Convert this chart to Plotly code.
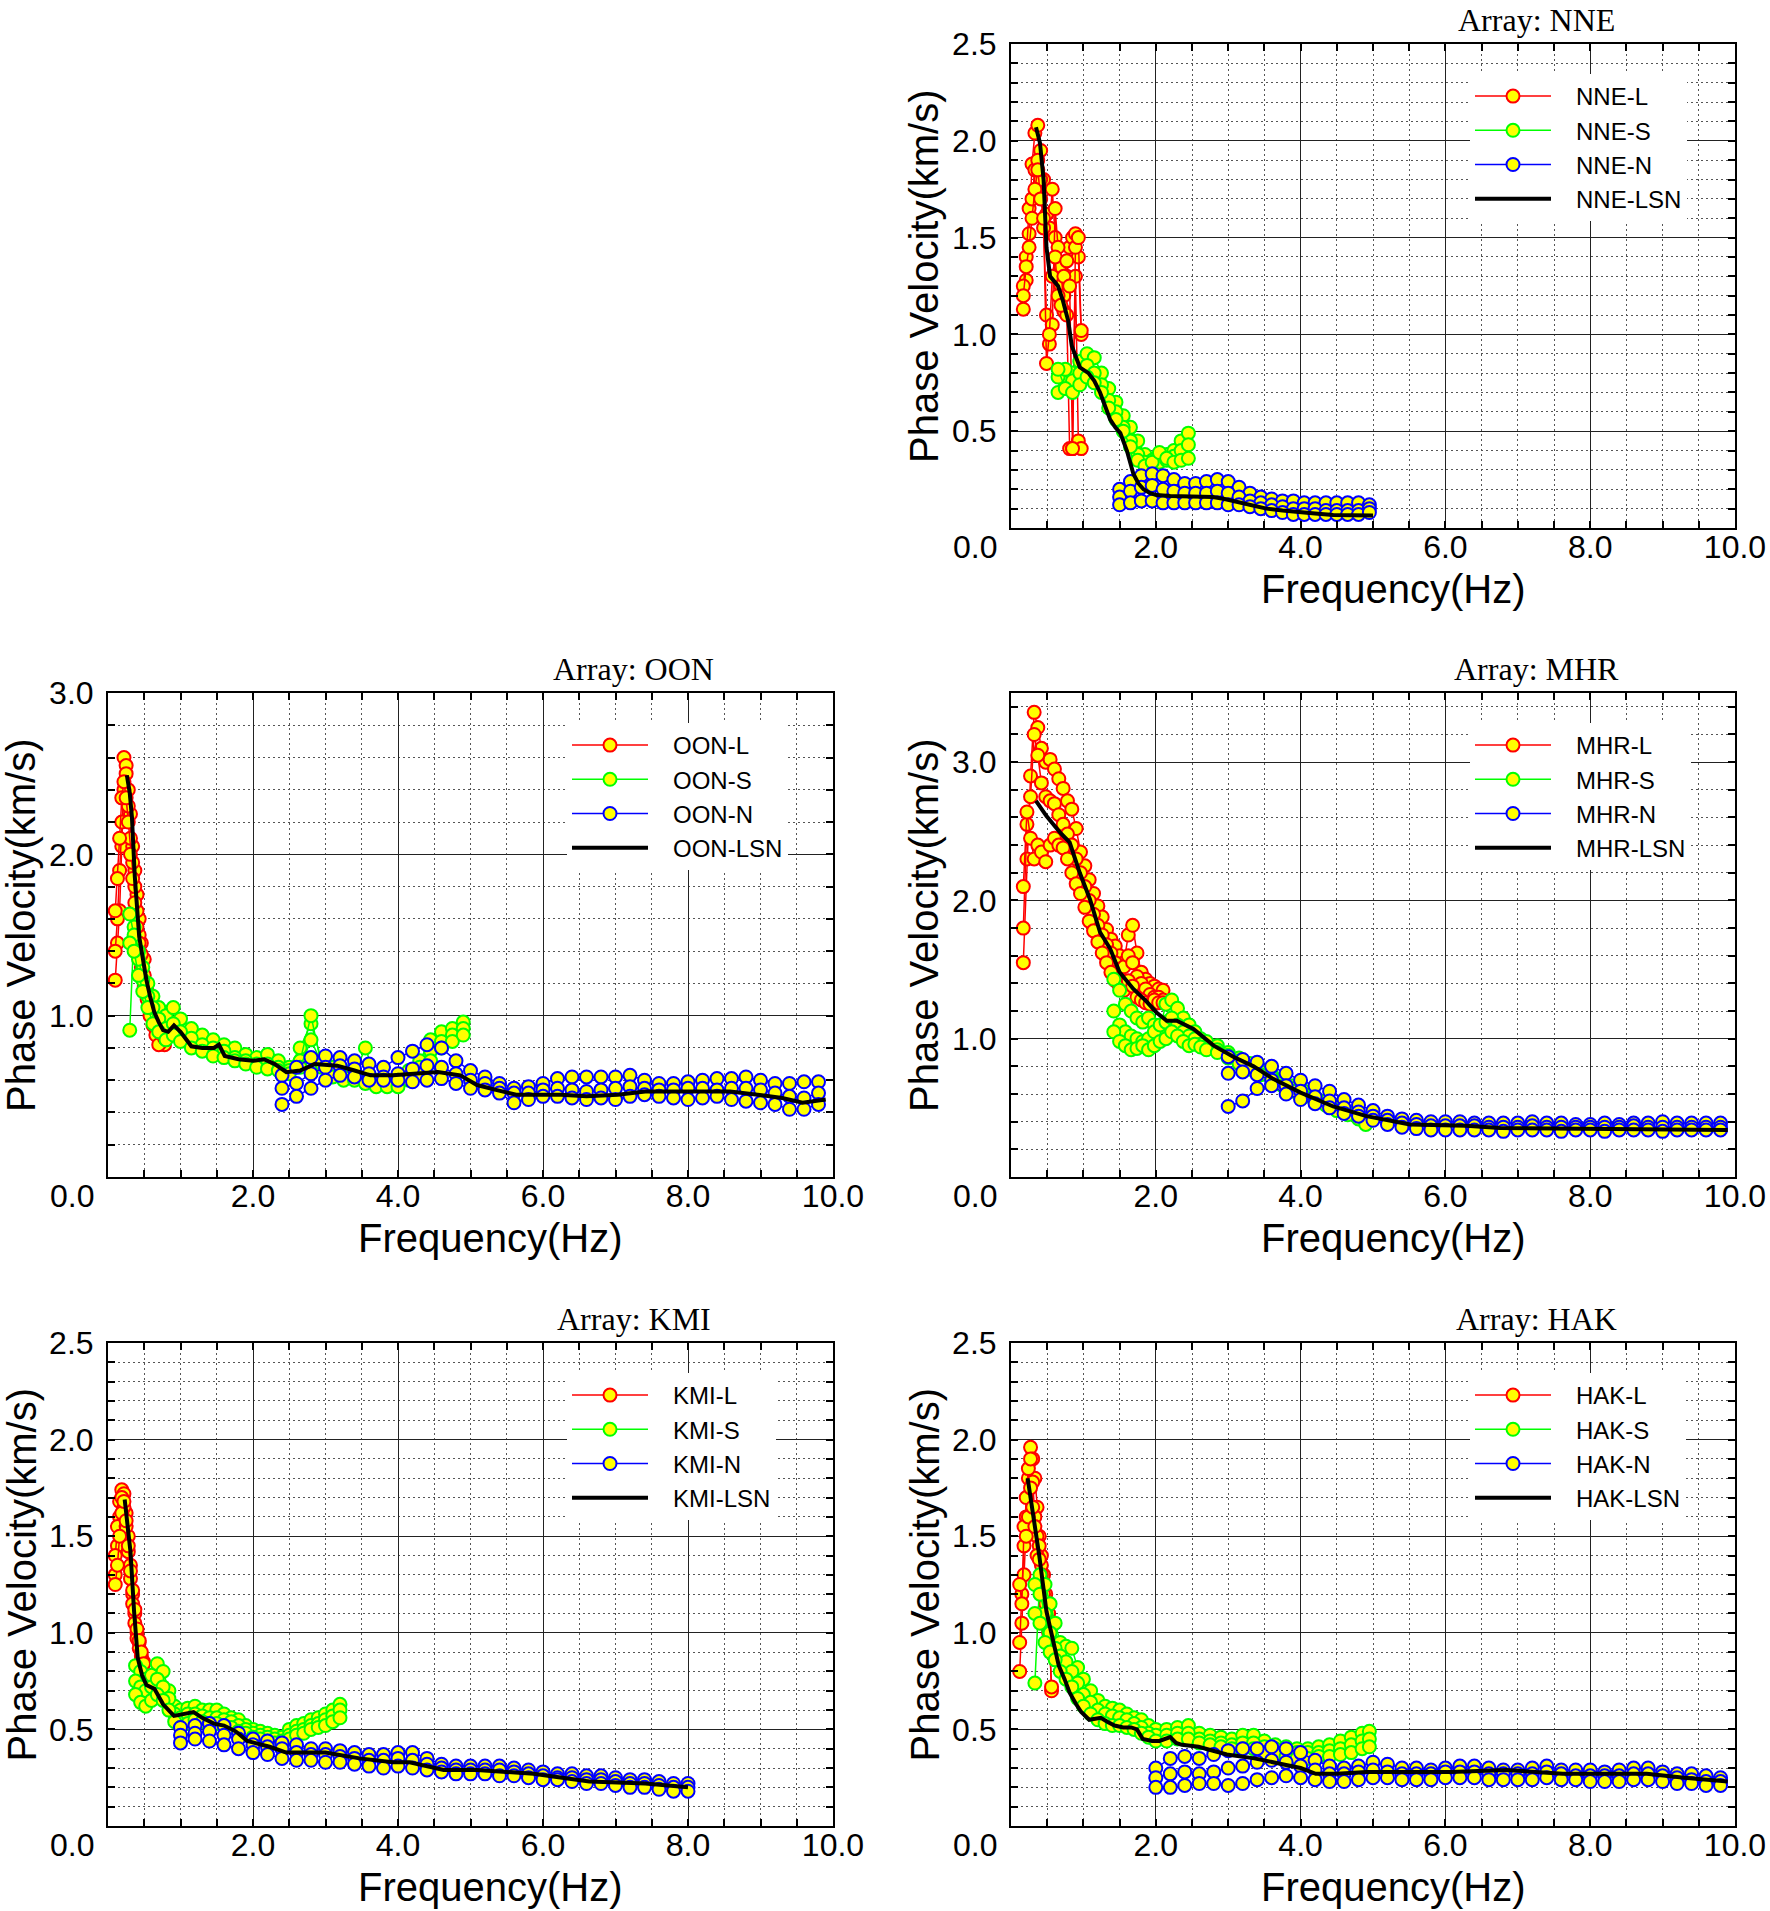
import plotly.graph_objects as go

# Phase velocity (km/s) against frequency (Hz).
# Each observed series (L, S, N) is drawn as a few overlapping branches.

# ---------------- NNE ----------------
NNE_L_FREQ = [0.17, 0.21, 0.25, 0.29, 0.33, 0.37, 0.41, 0.45, 0.49, 0.53, 0.57,
              0.61, 0.65, 0.69, 0.73, 0.77, 0.81, 0.85, 0.89, 0.93, 0.97]
NNE_L_VEL = [
    [1.13, 1.28, 1.52, 1.88, 2.04, 2.08, 1.95, 1.80, 1.62, 1.55, 1.75, 1.50, 1.30, 1.25, 1.20, 1.30, 1.45, 1.50, 1.52, 1.40, 1.00],
    [1.25, 1.40, 1.65, 1.70, 1.85, 1.90, 1.80, 1.55, 1.10, 0.95, 1.05, 1.65, 1.45, 1.35, 1.12, 1.10, 0.41, 0.41, 1.30, 0.45, 0.41],
    [1.20, 1.35, 1.45, 1.60, 1.75, 1.85, 1.70, 1.60, 0.85, 1.00, 1.30, 1.40, 1.20, 1.15, 1.30, 1.38, 1.25, 0.41, 1.45, 1.50, 1.02],
]
NNE_S_FREQ = [0.65, 0.75, 0.85, 0.95, 1.05, 1.15, 1.25, 1.35, 1.45, 1.55, 1.65, 1.75,
              1.85, 1.95, 2.05, 2.15, 2.25, 2.35, 2.45]
NNE_S_VEL = [
    [0.70, 0.75, 0.80, 0.86, 0.90, 0.88, 0.80, 0.72, 0.65, 0.58, 0.52, 0.45, 0.38, 0.35, 0.36, 0.38, 0.40, 0.45, 0.49],
    [0.78, 0.82, 0.76, 0.80, 0.84, 0.80, 0.74, 0.66, 0.60, 0.52, 0.45, 0.38, 0.34, 0.33, 0.34, 0.35, 0.37, 0.40, 0.43],
    [0.82, 0.72, 0.70, 0.74, 0.78, 0.75, 0.70, 0.62, 0.56, 0.50, 0.42, 0.35, 0.32, 0.34, 0.39, 0.36, 0.34, 0.35, 0.36],
]
NNE_N_FREQ = [1.50, 1.65, 1.80, 1.95, 2.10, 2.25, 2.40, 2.55, 2.70, 2.85, 3.00, 3.15,
              3.30, 3.45, 3.60, 3.75, 3.90, 4.05, 4.20, 4.35, 4.50, 4.65, 4.80, 4.95]
NNE_N_VEL = [
    [0.20, 0.24, 0.27, 0.28, 0.27, 0.25, 0.23, 0.23, 0.24, 0.25, 0.24, 0.21, 0.18, 0.16, 0.15, 0.14, 0.14, 0.13, 0.13, 0.13, 0.13, 0.13, 0.13, 0.12],
    [0.16, 0.19, 0.21, 0.22, 0.20, 0.19, 0.18, 0.18, 0.18, 0.19, 0.18, 0.16, 0.14, 0.13, 0.12, 0.11, 0.10, 0.10, 0.10, 0.09, 0.09, 0.09, 0.09, 0.10],
    [0.12, 0.13, 0.14, 0.14, 0.13, 0.13, 0.13, 0.13, 0.13, 0.13, 0.12, 0.12, 0.11, 0.10, 0.09, 0.08, 0.07, 0.07, 0.07, 0.07, 0.07, 0.07, 0.07, 0.08],
]
NNE_LSN_FREQ = [0.345, 0.40, 0.45, 0.49, 0.54, 0.60, 0.65, 0.72, 0.79, 0.84, 0.90, 0.95, 1.07,
                1.15, 1.23, 1.30, 1.37, 1.44, 1.51, 1.60, 1.69, 1.76, 1.83, 1.92, 2.01, 2.20,
                2.38, 2.60, 2.79, 2.95, 3.07, 3.30, 3.53, 3.75, 3.99, 4.20, 4.45, 4.70, 5.00]
NNE_LSN_VEL = [2.07, 1.99, 1.80, 1.45, 1.30, 1.27, 1.25, 1.17, 1.07, 0.94, 0.88, 0.83, 0.80,
               0.76, 0.70, 0.63, 0.56, 0.52, 0.49, 0.40, 0.28, 0.23, 0.20, 0.18, 0.17, 0.165,
               0.162, 0.162, 0.160, 0.15, 0.14, 0.12, 0.10, 0.09, 0.084, 0.075, 0.067, 0.065, 0.065]

# ---------------- OON ----------------
OON_L_FREQ = [0.10, 0.13, 0.16, 0.19, 0.22, 0.25, 0.28, 0.31, 0.34, 0.37, 0.40,
              0.43, 0.46, 0.50, 0.54, 0.58, 0.62, 0.66, 0.70, 0.74, 0.78]
OON_L_VEL = [
    [1.22, 1.45, 1.65, 2.05, 2.60, 2.55, 2.40, 2.25, 2.05, 1.90, 1.75, 1.60, 1.45, 1.35, 1.20, 1.10, 1.02, 0.95, 0.90, 0.85, 0.82],
    [1.40, 1.60, 1.90, 2.20, 2.40, 2.50, 2.30, 2.10, 1.95, 1.80, 1.65, 1.50, 1.38, 1.25, 1.15, 1.05, 0.98, 0.92, 0.86, 0.84, 0.88],
    [1.65, 1.85, 2.10, 2.35, 2.45, 2.35, 2.20, 2.00, 1.85, 1.70, 1.55, 1.45, 1.30, 1.18, 1.10, 1.00, 0.94, 0.88, 0.82, 0.90, 0.86],
]
OON_S_FREQ = [0.30, 0.36, 0.42, 0.48, 0.55, 0.62, 0.70, 0.80, 0.90, 1.00, 1.15, 1.30,
              1.45, 1.60, 1.75, 1.90, 2.05, 2.20, 2.35, 2.50, 2.65, 2.80, 2.95, 3.10,
              3.25, 3.40, 3.55, 3.70, 3.85, 4.00, 4.15, 4.30, 4.45, 4.60, 4.75, 4.90]
OON_S_VEL = [
    [0.91, 1.55, 1.40, 1.30, 1.20, 1.12, 1.05, 1.00, 1.05, 0.98, 0.92, 0.88, 0.85, 0.82, 0.80, 0.76, 0.74, 0.76,
     0.72, 0.68, 0.80, 0.95, 0.72, 0.68, 0.66, 0.64, 0.80, 0.60, 0.58, 0.60, 0.66, 0.72, 0.85, 0.90, 0.92, 0.96],
    [1.63, 1.50, 1.35, 1.22, 1.12, 1.05, 0.98, 0.92, 0.95, 0.90, 0.86, 0.82, 0.80, 0.78, 0.74, 0.72, 0.70, 0.70,
     0.68, 0.66, 0.72, 1.00, 0.68, 0.65, 0.62, 0.62, 0.60, 0.58, 0.57, 0.58, 0.62, 0.68, 0.78, 0.84, 0.88, 0.92],
    [1.45, 1.40, 1.25, 1.15, 1.05, 0.95, 0.90, 0.85, 0.88, 0.84, 0.80, 0.78, 0.75, 0.74, 0.72, 0.70, 0.68, 0.67,
     0.66, 0.64, 0.68, 0.85, 0.70, 0.62, 0.60, 0.60, 0.58, 0.56, 0.56, 0.56, 0.60, 0.64, 0.72, 0.80, 0.84, 0.88],
]
OON_N_FREQ = [2.4, 2.6, 2.8, 3.0, 3.2, 3.4, 3.6, 3.8, 4.0, 4.2, 4.4, 4.6, 4.8, 5.0, 5.2, 5.4, 5.6, 5.8, 6.0,
              6.2, 6.4, 6.6, 6.8, 7.0, 7.2, 7.4, 7.6, 7.8, 8.0, 8.2, 8.4, 8.6, 8.8, 9.0, 9.2, 9.4, 9.6, 9.8]
OON_N_VEL = [
    [0.63, 0.68, 0.74, 0.75, 0.74, 0.72, 0.70, 0.68, 0.74, 0.78, 0.82, 0.80, 0.72, 0.66, 0.62, 0.58, 0.55, 0.56, 0.58,
     0.61, 0.62, 0.62, 0.62, 0.62, 0.63, 0.60, 0.58, 0.58, 0.59, 0.60, 0.61, 0.61, 0.62, 0.60, 0.58, 0.58, 0.59, 0.59],
    [0.55, 0.58, 0.64, 0.68, 0.69, 0.67, 0.64, 0.62, 0.64, 0.67, 0.69, 0.68, 0.64, 0.60, 0.58, 0.55, 0.52, 0.52, 0.54,
     0.55, 0.54, 0.53, 0.54, 0.55, 0.56, 0.55, 0.54, 0.54, 0.55, 0.55, 0.54, 0.55, 0.55, 0.54, 0.52, 0.50, 0.49, 0.52],
    [0.45, 0.50, 0.55, 0.60, 0.63, 0.62, 0.60, 0.60, 0.60, 0.59, 0.60, 0.61, 0.58, 0.55, 0.54, 0.52, 0.46, 0.48, 0.50,
     0.50, 0.49, 0.48, 0.49, 0.48, 0.50, 0.51, 0.50, 0.49, 0.48, 0.49, 0.50, 0.48, 0.47, 0.46, 0.45, 0.42, 0.42, 0.45],
]
OON_LSN_FREQ = [0.26, 0.30, 0.33, 0.37, 0.43, 0.48, 0.53, 0.58, 0.64, 0.70, 0.76, 0.83, 0.91, 1.00,
                1.15, 1.30, 1.46, 1.53, 1.61, 1.80, 2.00, 2.15, 2.30, 2.46, 2.65, 2.85, 3.16, 3.40,
                3.62, 3.93, 4.20, 4.55, 4.86, 5.09, 5.35, 5.63, 6.00, 6.25, 6.60, 7.03, 7.41, 8.00,
                8.58, 8.96, 9.30, 9.58, 9.90]
OON_LSN_VEL = [2.49, 2.38, 2.23, 1.86, 1.49, 1.35, 1.22, 1.12, 1.02, 0.96, 0.91, 0.90, 0.94, 0.90,
               0.81, 0.80, 0.80, 0.82, 0.75, 0.73, 0.72, 0.73, 0.70, 0.65, 0.66, 0.70, 0.69, 0.66,
               0.63, 0.63, 0.64, 0.65, 0.63, 0.57, 0.54, 0.51, 0.51, 0.51, 0.50, 0.51, 0.53, 0.53,
               0.53, 0.51, 0.49, 0.46, 0.48]

# ---------------- MHR ----------------
MHR_L_FREQ = [0.17, 0.22, 0.27, 0.32, 0.37, 0.42, 0.48, 0.54, 0.60, 0.66, 0.72, 0.78, 0.84, 0.90,
              0.96, 1.02, 1.08, 1.14, 1.20, 1.26, 1.32, 1.38, 1.44, 1.50, 1.56, 1.62, 1.68, 1.74,
              1.80, 1.86, 1.92, 1.98, 2.04, 2.10]
MHR_L_VEL = [
    [1.55, 2.30, 2.90, 3.36, 3.25, 3.10, 3.00, 3.02, 2.95, 2.88, 2.81, 2.72, 2.66, 2.52, 2.35, 2.25, 2.15,
     2.05, 1.96, 1.88, 1.79, 1.72, 1.67, 1.60, 1.55, 1.75, 1.82, 1.62, 1.48, 1.43, 1.40, 1.38, 1.36, 1.35],
    [1.80, 2.55, 2.75, 3.20, 3.05, 2.85, 2.75, 2.72, 2.70, 2.62, 2.55, 2.48, 2.40, 2.30, 2.20, 2.10, 2.00,
     1.90, 1.82, 1.75, 1.68, 1.62, 1.55, 1.50, 1.52, 1.60, 1.55, 1.45, 1.40, 1.36, 1.32, 1.30, 1.30, 1.28],
    [2.10, 2.64, 2.45, 2.30, 2.40, 2.35, 2.28, 2.40, 2.45, 2.40, 2.38, 2.30, 2.20, 2.12, 2.05, 1.95, 1.85,
     1.78, 1.70, 1.62, 1.55, 1.48, 1.42, 1.38, 1.35, 1.42, 1.38, 1.30, 1.28, 1.26, 1.25, 1.28, 1.26, 1.26],
]
MHR_S_FREQ = [1.42, 1.50, 1.58, 1.66, 1.74, 1.82, 1.90, 1.98, 2.06, 2.14, 2.22, 2.30, 2.38, 2.46,
              2.54, 2.62, 2.70, 2.85, 3.00, 3.15, 3.30, 3.45, 3.60, 3.75, 3.90, 4.05, 4.20, 4.35,
              4.50, 4.65, 4.80, 4.90]
MHR_S_VEL = [
    [1.43, 1.35, 1.25, 1.20, 1.15, 1.12, 1.15, 1.10, 1.08, 1.25, 1.28, 1.22, 1.15, 1.10, 1.05, 1.00,
     0.98, 0.95, 0.90, 0.86, 0.82, 0.78, 0.74, 0.70, 0.66, 0.62, 0.58, 0.55, 0.51, 0.47, 0.43, 0.40],
    [1.20, 1.10, 1.05, 1.02, 1.00, 0.98, 1.00, 1.05, 1.10, 1.12, 1.15, 1.10, 1.05, 1.02, 1.00, 0.96,
     0.94, 0.92, 0.88, 0.84, 0.80, 0.76, 0.72, 0.68, 0.64, 0.60, 0.56, 0.53, 0.50, 0.46, 0.43, 0.40],
    [1.05, 0.98, 0.95, 0.92, 0.93, 0.95, 0.92, 0.95, 0.98, 1.00, 1.05, 1.02, 0.98, 0.95, 0.96, 0.94,
     0.92, 0.90, 0.86, 0.82, 0.78, 0.74, 0.70, 0.66, 0.62, 0.58, 0.55, 0.52, 0.48, 0.45, 0.42, 0.38],
]
MHR_N_FREQ = [3.0, 3.2, 3.4, 3.6, 3.8, 4.0, 4.2, 4.4, 4.6, 4.8, 5.0, 5.2, 5.4, 5.6, 5.8, 6.0, 6.2, 6.4,
              6.6, 6.8, 7.0, 7.2, 7.4, 7.6, 7.8, 8.0, 8.2, 8.4, 8.6, 8.8, 9.0, 9.2, 9.4, 9.6, 9.8]
MHR_N_VEL = [
    [0.87, 0.85, 0.83, 0.80, 0.75, 0.70, 0.66, 0.62, 0.56, 0.52, 0.48, 0.44, 0.42, 0.41, 0.40, 0.40, 0.40, 0.39,
     0.39, 0.39, 0.39, 0.40, 0.39, 0.39, 0.38, 0.38, 0.39, 0.38, 0.39, 0.39, 0.40, 0.39, 0.39, 0.39, 0.39],
    [0.75, 0.76, 0.74, 0.70, 0.66, 0.62, 0.58, 0.55, 0.50, 0.47, 0.44, 0.41, 0.39, 0.38, 0.37, 0.37, 0.37, 0.37,
     0.36, 0.36, 0.36, 0.37, 0.36, 0.36, 0.36, 0.36, 0.36, 0.36, 0.37, 0.36, 0.36, 0.36, 0.36, 0.36, 0.36],
    [0.51, 0.55, 0.64, 0.66, 0.60, 0.56, 0.53, 0.50, 0.46, 0.44, 0.41, 0.38, 0.36, 0.35, 0.34, 0.34, 0.34, 0.34,
     0.34, 0.33, 0.34, 0.34, 0.34, 0.33, 0.34, 0.34, 0.33, 0.34, 0.34, 0.34, 0.33, 0.34, 0.34, 0.34, 0.34],
]
MHR_LSN_FREQ = [0.345, 0.49, 0.68, 0.81, 0.95, 1.09, 1.23, 1.37, 1.50, 1.69, 1.87, 2.01, 2.15, 2.29,
                2.52, 2.80, 3.07, 3.35, 3.62, 4.00, 4.45, 4.91, 5.51, 6.29, 6.75, 7.50, 8.20, 9.00, 9.90]
MHR_LSN_VEL = [2.72, 2.61, 2.49, 2.42, 2.20, 2.01, 1.77, 1.65, 1.48, 1.36, 1.27, 1.19, 1.13, 1.13,
               1.07, 0.95, 0.87, 0.80, 0.71, 0.61, 0.51, 0.44, 0.38, 0.37, 0.355, 0.35, 0.35, 0.345, 0.34]

# ---------------- KMI ----------------
KMI_L_FREQ = [0.10, 0.13, 0.16, 0.19, 0.22, 0.25, 0.28, 0.31, 0.34, 0.37, 0.40, 0.43, 0.46, 0.49]
KMI_L_VEL = [
    [1.30, 1.45, 1.60, 1.74, 1.72, 1.62, 1.50, 1.35, 1.20, 1.10, 1.00, 0.95, 0.88, 0.85],
    [1.40, 1.55, 1.68, 1.70, 1.65, 1.55, 1.42, 1.28, 1.15, 1.05, 0.97, 0.92, 0.86, 0.80],
    [1.25, 1.35, 1.50, 1.62, 1.68, 1.58, 1.45, 1.32, 1.22, 1.12, 1.02, 0.96, 0.90, 0.84],
]
KMI_S_FREQ = [0.38, 0.45, 0.52, 0.60, 0.68, 0.76, 0.84, 0.92, 1.00, 1.10, 1.20, 1.30, 1.40, 1.50,
              1.60, 1.70, 1.80, 1.90, 2.00, 2.10, 2.20, 2.30, 2.40, 2.50, 2.60, 2.70, 2.80, 2.90,
              3.00, 3.10, 3.20]
KMI_S_VEL = [
    [0.83, 0.80, 0.76, 0.78, 0.84, 0.80, 0.70, 0.62, 0.60, 0.61, 0.62, 0.60, 0.60, 0.60, 0.58, 0.56,
     0.55, 0.52, 0.50, 0.49, 0.48, 0.47, 0.46, 0.50, 0.52, 0.53, 0.55, 0.56, 0.58, 0.60, 0.63],
    [0.75, 0.72, 0.70, 0.72, 0.76, 0.72, 0.66, 0.58, 0.56, 0.58, 0.58, 0.57, 0.56, 0.56, 0.55, 0.54,
     0.52, 0.50, 0.48, 0.47, 0.46, 0.45, 0.44, 0.47, 0.49, 0.50, 0.52, 0.53, 0.55, 0.57, 0.60],
    [0.68, 0.64, 0.62, 0.65, 0.68, 0.65, 0.60, 0.54, 0.51, 0.53, 0.55, 0.54, 0.53, 0.53, 0.52, 0.51,
     0.49, 0.48, 0.46, 0.45, 0.44, 0.43, 0.43, 0.45, 0.47, 0.48, 0.50, 0.51, 0.52, 0.54, 0.56],
]
KMI_N_FREQ = [1.0, 1.2, 1.4, 1.6, 1.8, 2.0, 2.2, 2.4, 2.6, 2.8, 3.0, 3.2, 3.4, 3.6, 3.8, 4.0, 4.2, 4.4,
              4.6, 4.8, 5.0, 5.2, 5.4, 5.6, 5.8, 6.0, 6.2, 6.4, 6.6, 6.8, 7.0, 7.2, 7.4, 7.6, 7.8, 8.0]
KMI_N_VEL = [
    [0.51, 0.52, 0.53, 0.52, 0.48, 0.45, 0.44, 0.43, 0.42, 0.40, 0.40, 0.39, 0.38, 0.37, 0.37, 0.38, 0.38, 0.35,
     0.32, 0.31, 0.31, 0.31, 0.31, 0.30, 0.29, 0.28, 0.27, 0.27, 0.26, 0.26, 0.25, 0.24, 0.24, 0.23, 0.22, 0.22],
    [0.47, 0.48, 0.49, 0.47, 0.45, 0.42, 0.41, 0.40, 0.38, 0.37, 0.37, 0.36, 0.35, 0.34, 0.34, 0.35, 0.34, 0.32,
     0.30, 0.29, 0.29, 0.29, 0.29, 0.28, 0.27, 0.26, 0.25, 0.25, 0.24, 0.24, 0.23, 0.22, 0.22, 0.21, 0.20, 0.20],
    [0.43, 0.45, 0.44, 0.42, 0.40, 0.38, 0.37, 0.35, 0.34, 0.34, 0.33, 0.33, 0.32, 0.31, 0.30, 0.31, 0.30, 0.29,
     0.28, 0.27, 0.27, 0.27, 0.26, 0.26, 0.25, 0.24, 0.24, 0.23, 0.22, 0.22, 0.21, 0.20, 0.20, 0.19, 0.18, 0.18],
]
KMI_LSN_FREQ = [0.23, 0.31, 0.36, 0.41, 0.47, 0.53, 0.64, 0.76, 0.91, 1.07, 1.18, 1.30, 1.46, 1.60,
                1.76, 1.92, 2.23, 2.46, 3.00, 3.47, 3.93, 4.16, 4.63, 5.09, 5.87, 6.64, 7.41, 8.00]
KMI_LSN_VEL = [1.69, 1.42, 1.11, 0.87, 0.78, 0.73, 0.71, 0.63, 0.57, 0.58, 0.59, 0.56, 0.53, 0.52,
               0.49, 0.44, 0.41, 0.38, 0.38, 0.35, 0.33, 0.33, 0.29, 0.29, 0.27, 0.23, 0.22, 0.20]

# ---------------- HAK ----------------
HAK_L_FREQ = [0.12, 0.15, 0.18, 0.21, 0.24, 0.27, 0.30, 0.33, 0.36, 0.39, 0.42, 0.45, 0.48, 0.52, 0.56]
HAK_L_VEL = [
    [0.80, 1.05, 1.30, 1.60, 1.80, 1.96, 1.90, 1.80, 1.65, 1.50, 1.40, 1.30, 1.20, 1.10, 0.70],
    [0.95, 1.20, 1.45, 1.70, 1.85, 1.90, 1.78, 1.60, 1.50, 1.45, 1.35, 1.25, 1.15, 1.05, 0.72],
    [1.25, 1.15, 1.55, 1.50, 1.60, 1.75, 1.65, 1.55, 1.40, 1.38, 1.30, 1.20, 1.10, 1.00, 0.95],
]
HAK_S_FREQ = [0.33, 0.40, 0.47, 0.54, 0.61, 0.68, 0.76, 0.84, 0.92, 1.00, 1.10, 1.20, 1.30, 1.40,
              1.50, 1.60, 1.70, 1.80, 1.90, 2.00, 2.15, 2.30, 2.45, 2.60, 2.75, 2.90, 3.05, 3.20,
              3.35, 3.50, 3.65, 3.80, 3.95, 4.10, 4.25, 4.40, 4.55, 4.70, 4.85, 4.95]
HAK_S_VEL = [
    [0.74, 1.30, 1.25, 1.15, 1.05, 0.95, 0.93, 0.92, 0.82, 0.76, 0.70, 0.65, 0.62, 0.61, 0.60, 0.58, 0.56, 0.55, 0.52, 0.50,
     0.50, 0.51, 0.52, 0.48, 0.47, 0.46, 0.45, 0.47, 0.47, 0.44, 0.42, 0.41, 0.40, 0.40, 0.41, 0.42, 0.44, 0.46, 0.48, 0.49],
    [1.25, 1.20, 1.10, 1.00, 0.92, 0.88, 0.85, 0.80, 0.74, 0.68, 0.64, 0.60, 0.58, 0.57, 0.56, 0.55, 0.53, 0.51, 0.48, 0.47,
     0.47, 0.48, 0.48, 0.45, 0.44, 0.43, 0.42, 0.43, 0.43, 0.41, 0.40, 0.39, 0.38, 0.38, 0.38, 0.39, 0.40, 0.42, 0.44, 0.45],
    [1.10, 1.05, 0.95, 0.90, 0.86, 0.80, 0.76, 0.72, 0.66, 0.62, 0.58, 0.55, 0.53, 0.52, 0.52, 0.51, 0.50, 0.48, 0.46, 0.44,
     0.44, 0.45, 0.45, 0.43, 0.42, 0.41, 0.40, 0.40, 0.40, 0.38, 0.37, 0.36, 0.35, 0.35, 0.36, 0.36, 0.37, 0.38, 0.40, 0.41],
]
HAK_N_FREQ = [2.0, 2.2, 2.4, 2.6, 2.8, 3.0, 3.2, 3.4, 3.6, 3.8, 4.0, 4.2, 4.4, 4.6, 4.8, 5.0, 5.2, 5.4, 5.6, 5.8,
              6.0, 6.2, 6.4, 6.6, 6.8, 7.0, 7.2, 7.4, 7.6, 7.8, 8.0, 8.2, 8.4, 8.6, 8.8, 9.0, 9.2, 9.4, 9.6, 9.8]
HAK_N_VEL = [
    [0.30, 0.35, 0.36, 0.35, 0.37, 0.39, 0.40, 0.40, 0.41, 0.40, 0.38, 0.34, 0.31, 0.30, 0.31, 0.33, 0.32, 0.30, 0.30, 0.29,
     0.30, 0.31, 0.31, 0.30, 0.29, 0.29, 0.30, 0.31, 0.29, 0.29, 0.29, 0.28, 0.29, 0.30, 0.30, 0.28, 0.27, 0.27, 0.26, 0.25],
    [0.25, 0.27, 0.28, 0.27, 0.28, 0.30, 0.31, 0.33, 0.34, 0.33, 0.31, 0.29, 0.27, 0.27, 0.28, 0.29, 0.28, 0.27, 0.27, 0.27,
     0.28, 0.28, 0.28, 0.27, 0.27, 0.27, 0.27, 0.28, 0.27, 0.26, 0.26, 0.26, 0.26, 0.27, 0.27, 0.26, 0.25, 0.24, 0.23, 0.23],
    [0.20, 0.20, 0.21, 0.22, 0.22, 0.21, 0.22, 0.24, 0.25, 0.26, 0.25, 0.24, 0.23, 0.23, 0.24, 0.25, 0.25, 0.24, 0.24, 0.24,
     0.25, 0.25, 0.25, 0.24, 0.24, 0.24, 0.24, 0.25, 0.24, 0.24, 0.23, 0.23, 0.23, 0.24, 0.24, 0.23, 0.22, 0.22, 0.21, 0.21],
]
HAK_LSN_FREQ = [0.23, 0.31, 0.39, 0.49, 0.58, 0.66, 0.74, 0.81, 0.90, 0.97, 1.08, 1.24, 1.33, 1.43,
                1.55, 1.66, 1.74, 1.82, 1.95, 2.05, 2.20, 2.28, 2.36, 2.59, 2.98, 3.36, 3.75, 4.00,
                4.21, 4.50, 4.91, 5.50, 6.07, 6.84, 7.30, 7.62, 8.20, 8.78, 9.30, 9.90]
HAK_LSN_VEL = [1.80, 1.60, 1.40, 1.11, 0.95, 0.83, 0.76, 0.69, 0.63, 0.59, 0.55, 0.56, 0.54, 0.52,
               0.51, 0.51, 0.50, 0.45, 0.44, 0.44, 0.46, 0.43, 0.42, 0.41, 0.37, 0.35, 0.32, 0.30,
               0.27, 0.27, 0.28, 0.28, 0.28, 0.29, 0.28, 0.27, 0.27, 0.27, 0.25, 0.23]

# axis ticks
X_TICKS = [2, 4, 6, 8, 10]
X_TICK_TEXT = ["2.0", "4.0", "6.0", "8.0", "10.0"]
Y_TICKS_25 = [0.5, 1.0, 1.5, 2.0, 2.5]
Y_TICKS_30 = [1.0, 2.0, 3.0]

W, H = 1770, 1911
SANS = "Liberation Sans, Arial, sans-serif"
SERIF = "Liberation Serif, Times New Roman, serif"
YELLOW = "#FFFF00"
COLORS = {"L": "#FF0000", "S": "#00FF00", "N": "#0000FF"}
PAD = "\u00a0\u00a0\u00a0"  # gap between legend symbol and label

# plot boxes in pixels: (left, right), (top, bottom)
COLS = [(108, 833), (1011, 1735)]
ROWS = [(44, 528), (693, 1177), (1343, 1826)]

panels = [
    dict(name="NNE", col=1, row=0, ymax=2.5, ytick=Y_TICKS_25, ydminor=0.1,
         L=(NNE_L_FREQ, NNE_L_VEL), S=(NNE_S_FREQ, NNE_S_VEL), N=(NNE_N_FREQ, NNE_N_VEL),
         LSN=(NNE_LSN_FREQ, NNE_LSN_VEL)),
    dict(name="OON", col=0, row=1, ymax=3.0, ytick=Y_TICKS_30, ydminor=0.2,
         L=(OON_L_FREQ, OON_L_VEL), S=(OON_S_FREQ, OON_S_VEL), N=(OON_N_FREQ, OON_N_VEL),
         LSN=(OON_LSN_FREQ, OON_LSN_VEL)),
    dict(name="MHR", col=1, row=1, ymax=3.5, ytick=Y_TICKS_30, ydminor=0.2,
         L=(MHR_L_FREQ, MHR_L_VEL), S=(MHR_S_FREQ, MHR_S_VEL), N=(MHR_N_FREQ, MHR_N_VEL),
         LSN=(MHR_LSN_FREQ, MHR_LSN_VEL)),
    dict(name="KMI", col=0, row=2, ymax=2.5, ytick=Y_TICKS_25, ydminor=0.1,
         L=(KMI_L_FREQ, KMI_L_VEL), S=(KMI_S_FREQ, KMI_S_VEL), N=(KMI_N_FREQ, KMI_N_VEL),
         LSN=(KMI_LSN_FREQ, KMI_LSN_VEL)),
    dict(name="HAK", col=1, row=2, ymax=2.5, ytick=Y_TICKS_25, ydminor=0.1,
         L=(HAK_L_FREQ, HAK_L_VEL), S=(HAK_S_FREQ, HAK_S_VEL), N=(HAK_N_FREQ, HAK_N_VEL),
         LSN=(HAK_LSN_FREQ, HAK_LSN_VEL)),
]

fig = go.Figure()
layout = {}
annotations = []

for n, p in enumerate(panels, start=1):
    sfx = "" if n == 1 else str(n)
    xref, yref = "x" + sfx, "y" + sfx
    leg = "legend" + sfx
    (x0, x1), (y0, y1) = COLS[p["col"]], ROWS[p["row"]]

    for key in ["L", "S", "N"]:
        freq, branches = p[key]
        for i, vel in enumerate(branches):
            fig.add_trace(go.Scatter(
                x=freq, y=vel, mode="lines+markers", name=PAD + f"{p['name']}-{key}",
                line=dict(color=COLORS[key], width=1.5),
                marker=dict(symbol="circle", size=13, color=YELLOW,
                            line=dict(color=COLORS[key], width=2)),
                showlegend=(i == 0), legend=leg, xaxis=xref, yaxis=yref))
    freq, vel = p["LSN"]
    fig.add_trace(go.Scatter(
        x=freq, y=vel, mode="lines", name=PAD + f"{p['name']}-LSN",
        line=dict(color="black", width=4), legend=leg, xaxis=xref, yaxis=yref))

    common = dict(showline=True, linecolor="black", linewidth=2, mirror="allticks",
                  ticks="inside", ticklen=7, tickwidth=1.5, tickcolor="black",
                  showgrid=True, gridcolor="#222222", gridwidth=1, zeroline=False,
                  tickfont=dict(family=SANS, size=32, color="black"),
                  automargin=False, fixedrange=True)
    minor = dict(tick0=0, ticks="inside", ticklen=7, tickcolor="black",
                 showgrid=True, gridcolor="#555555", griddash="2px,3px", gridwidth=1)
    layout["xaxis" + sfx] = dict(
        common, domain=[x0 / W, x1 / W], anchor=yref, range=[0, 10],
        tickmode="array", tickvals=X_TICKS, ticktext=X_TICK_TEXT, ticklabelstandoff=-10,
        minor=dict(minor, dtick=0.5))
    layout["yaxis" + sfx] = dict(
        common, domain=[1 - y1 / H, 1 - y0 / H], anchor=xref, range=[0, p["ymax"]],
        tickmode="array", tickvals=p["ytick"], ticktext=[f"{v:.1f}" for v in p["ytick"]],
        ticklabelstandoff=6, minor=dict(minor, dtick=p["ydminor"]))

    layout[leg] = dict(
        x=(x0 + 459) / W, y=1 - (y0 + 30) / H, xanchor="left", yanchor="top",
        bgcolor="white", borderwidth=0, itemwidth=76, tracegroupgap=0,
        font=dict(family=SANS, size=24, color="black"))

    # panel title
    annotations.append(dict(
        text=f"Array: {p['name']}", x=((x0 + x1) / 2 + 163) / W, y=1 - (y0 - 44) / H,
        xref="paper", yref="paper", showarrow=False, xanchor="center", yanchor="top",
        font=dict(family=SERIF, size=32, color="black")))
    # axis titles
    annotations.append(dict(
        text="Frequency(Hz)", x=((x0 + x1) / 2 + 20) / W, y=1 - (y1 + 61) / H,
        xref="paper", yref="paper", showarrow=False, xanchor="center", yanchor="middle",
        font=dict(family=SANS, size=40, color="black")))
    annotations.append(dict(
        text="Phase Velocity(km/s)", x=(x0 - 87) / W, y=1 - ((y0 + y1) / 2 - 9) / H,
        xref="paper", yref="paper", showarrow=False, xanchor="center", yanchor="middle",
        textangle=-90, font=dict(family=SANS, size=40, color="black")))
    # shared corner label
    annotations.append(dict(
        text="0.0", x=(x0 - 36) / W, y=1 - (y1 + 19) / H,
        xref="paper", yref="paper", showarrow=False, xanchor="center", yanchor="middle",
        font=dict(family=SANS, size=32, color="black")))

fig.update_layout(
    width=W, height=H, margin=dict(l=0, r=0, t=0, b=0),
    paper_bgcolor="white", plot_bgcolor="white",
    annotations=annotations, **layout)

# the page body has a default 8px margin; drop it so the figure fills the window
fig.write_html("out.html", config={"displayModeBar": False},
               post_script="document.body.style.margin = '0';")
